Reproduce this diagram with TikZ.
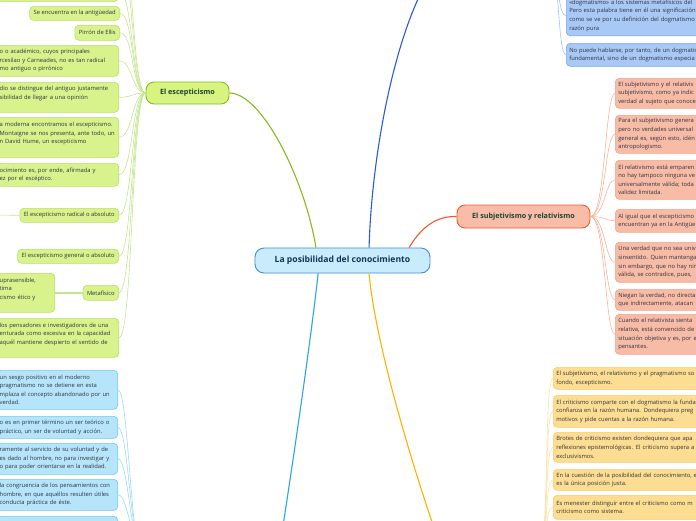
\documentclass[tikz,border=0pt]{standalone}
\usepackage{fontspec}
\setmainfont{Open Sans}
\usetikzlibrary{positioning}

\definecolor{leaftext}{HTML}{2E3440}
\definecolor{topictext}{HTML}{1B4332}
\definecolor{centretext}{HTML}{15315C}
\definecolor{centrefill}{HTML}{C9ECFC}
\definecolor{centreline}{HTML}{3F8FD2}
\definecolor{escfill}{HTML}{D6F47F}
\definecolor{escline}{HTML}{86BD1C}
\definecolor{gfill}{HTML}{D8F28C}
\definecolor{gline}{HTML}{B8E06A}
\definecolor{gconncol}{HTML}{C6E592}
\definecolor{subjfill}{HTML}{F9BCA8}
\definecolor{subjline}{HTML}{F05A28}
\definecolor{pfill}{HTML}{F8BBA6}
\definecolor{pline}{HTML}{F6A488}
\definecolor{pconncol}{HTML}{F8B49C}
\definecolor{tfill}{HTML}{A8C8F6}
\definecolor{tline}{HTML}{7AA6EC}
\definecolor{tconncol}{HTML}{A5C2F0}
\definecolor{tmaincol}{HTML}{2A5BD7}
\definecolor{yfill}{HTML}{FCDD91}
\definecolor{yline}{HTML}{F8CB6A}
\definecolor{yconncol}{HTML}{FBE3A6}
\definecolor{ymaincol}{HTML}{FFB300}
\definecolor{bfill}{HTML}{B5E4FB}
\definecolor{bline}{HTML}{72C9F2}
\definecolor{bconncol}{HTML}{9ED8F5}
\definecolor{bmaincol}{HTML}{2BA3E6}

\newcommand{\leaffont}{\fontsize{5.8}{8.6}\selectfont\hyphenpenalty=10000\exhyphenpenalty=10000}
\newcommand{\topicfont}{\fontsize{7.2}{9}\selectfont\bfseries}

\begin{document}
\begin{tikzpicture}[x=1pt, y=-1pt,
		leaf/.style={rectangle, rounded corners=4pt, line width=0.6pt, inner xsep=3pt, inner ysep=3pt, align=left, font=\leaffont, text=leaftext},
		gleaf/.style={leaf, fill=gfill, draw=gline},
		pleaf/.style={leaf, fill=pfill, draw=pline},
		tleaf/.style={leaf, fill=tfill, draw=tline},
		yleaf/.style={leaf, fill=yfill, draw=yline},
		bleaf/.style={leaf, fill=bfill, draw=bline},
		topic/.style={rectangle, rounded corners=8pt, line width=0.9pt, font=\topicfont, text=topictext, inner sep=0pt},
		gconn/.style={draw=gconncol, line width=0.6pt},
		pconn/.style={draw=pconncol, line width=0.6pt},
		tconn/.style={draw=tconncol, line width=0.6pt},
		yconn/.style={draw=yconncol, line width=0.6pt},
		bconn/.style={draw=bconncol, line width=0.6pt}]
		
		\useasboundingbox (0,0) rectangle (696,520);
		\clip (0,0) rectangle (696,520);
		
		% Nodo central y temas
		\node[topic, rounded corners=9pt, fill=centrefill, draw=centreline, text=centretext, font=\fontsize{8.6}{10}\selectfont\bfseries, minimum width=175pt, minimum height=25pt] (posib) at (342.5,260.5) {La posibilidad del conocimiento};
		\node[topic, fill=escfill, draw=escline, minimum width=83pt, minimum height=22pt] (esc) at (187.5,93) {El escepticismo};
		\node[topic, fill=subjfill, draw=subjline, minimum width=133pt, minimum height=23pt] (subj) at (523.5,216.5) {El subjetivismo y relativismo};
		
		% Temas fuera del cuadro
		\coordinate (dogm) at (425,-15);
		\coordinate (dogmr) at (552,-20);
		\coordinate (crit) at (440,545);
		\coordinate (critl) at (540,545);
		\coordinate (prag) at (280,545);
		\coordinate (pragl) at (140,545);
		
		% Hojas: el escepticismo
		\node[gleaf, anchor=north east, text width=116pt, minimum height=21pt] (g0) at (119,-20) {};
		\node[gleaf, anchor=north east, inner xsep=4pt, minimum height=14pt] (g1) at (120,6) {Se encuentra en la antigüedad};
		\node[gleaf, anchor=north east, inner xsep=4pt, minimum height=15pt] (g2) at (120,25) {Pirrón de Ellis};
		\node[gleaf, anchor=north east, text width=116pt, minimum height=31pt] (g3) at (119,45) {o o académico, cuyos principales\\rcesilao y Carneades, no es tan radical\\mo antiguo o pirrónico};
		\node[gleaf, anchor=north east, text width=116pt, minimum height=30pt] (g4) at (119,82) {dio se distingue del antiguo justamente\\sibilidad de llegar a una opinión\\\mbox{}};
		\node[gleaf, anchor=north east, text width=116pt, minimum height=40pt] (g5) at (119,117) {a moderna encontramos el escepticismo.\\Montaigne se nos presenta, ante todo, un\\n David Hume, un escepticismo\\\mbox{}};
		\node[gleaf, anchor=north east, text width=116pt, minimum height=23pt] (g6) at (119,163) {ocimiento es, por ende, afirmada y\\ez por el escéptico.};
		\node[gleaf, anchor=north east, inner xsep=4pt, minimum height=14pt] (g7) at (119,208) {El escepticismo radical o absoluto};
		\node[gleaf, anchor=north east, inner xsep=4pt, minimum height=14pt] (g8) at (119,249) {El escepticismo general o absoluto};
		\node[gleaf, anchor=north east, inner xsep=4pt, minimum height=15pt] (g9) at (119,285) {Metafísico};
		\node[gleaf, anchor=north east, text width=52pt, minimum height=39pt] (g9a) at (55,273) {uprasensible,\\tima\\cismo ético y\\\mbox{}};
		\node[gleaf, anchor=north east, text width=116pt, minimum height=39pt] (g10) at (119,318) {los pensadores e investigadores de una\\enturada como excesiva en la capacidad\\aquél mantiene despierto el sentido de\\\mbox{}};
		\coordinate (gx1) at (119,-45);
		\coordinate (gx2) at (119,-75);
		\coordinate (g7l) at (-10,215);
		
		% Hojas: subjetivismo y relativismo
		\node[pleaf, anchor=north west, text width=130pt, minimum height=30pt] (p1) at (615,78) {El subjetivismo y el relativis\\subjetivismo, como ya indic\\verdad al sujeto que conoce};
		\node[pleaf, anchor=north west, text width=130pt, minimum height=38pt] (p2) at (615,115) {Para el subjetivismo genera\\pero no verdades universal\\general es, según esto, idén\\antropologismo.};
		\node[pleaf, anchor=north west, text width=130pt, minimum height=39pt] (p3) at (615,160) {El relativismo está emparen\\no hay tampoco ninguna ve\\universalmente válida; toda\\validez limitada.};
		\node[pleaf, anchor=north west, text width=130pt, minimum height=23pt] (p4) at (615,209) {Al igual que el escepticismo\\encuentran ya en la Antigüe};
		\node[pleaf, anchor=north west, text width=130pt, minimum height=40pt] (p5) at (615,242) {Una verdad que no sea univ\\sinsentido. Quien mantenga\\sin embargo, que no hay nin\\válida, se contradice, pues,};
		\node[pleaf, anchor=north west, text width=130pt, minimum height=21pt] (p6) at (615,289) {Niegan la verdad, no directa\\que indirectamente, atacan};
		\node[pleaf, anchor=north west, text width=130pt, minimum height=40pt] (p7) at (615,314) {Cuando el relativista sienta\\relativa, está convencido de\\situación objetiva y es, por e\\pensantes.};
		
		% Hojas: dogmatismo (arriba)
		\node[tleaf, anchor=south west, text width=150pt, minimum height=40pt] (t1) at (566,36) {«dogmatismo» a los sistemas metafísicos del\\Pero esta palabra tiene en él una significación\\como se ve por su definición del dogmatismo\\razón pura};
		\node[tleaf, anchor=north west, text width=150pt, minimum height=23pt] (t2) at (566,43) {No puede hablarse, por tanto, de un dogmatis\\fundamental, sino de un dogmatismo especia};
		
		% Hojas: criticismo (abajo)
		\node[yleaf, anchor=north west, text width=170pt, minimum height=22pt] (y1) at (553,367) {El subjetivismo, el relativismo y el pragmatismo so\\fondo, escepticismo.};
		\node[yleaf, anchor=north west, text width=170pt, minimum height=32pt] (y2) at (553,395) {El criticismo comparte con el dogmatismo la funda\\confianza en la razón humana. Dondequiera preg\\motivos y pide cuentas a la razón humana.};
		\node[yleaf, anchor=north west, text width=170pt, minimum height=30pt] (y3) at (553,432) {Brotes de criticismo existen dondequiera que apa\\reflexiones epistemológicas. El criticismo supera a\\exclusivismos.};
		\node[yleaf, anchor=north west, text width=170pt, minimum height=21pt] (y4) at (553,469) {En la cuestión de la posibilidad del conocimiento, e\\es la única posición justa.};
		\node[yleaf, anchor=north west, text width=170pt, minimum height=24pt] (y5) at (553,495) {Es menester distinguir entre el criticismo como m\\criticismo como sistema.};
		
		% Hojas: pragmatismo (abajo izquierda)
		\node[bleaf, anchor=north east, text width=115pt, minimum height=39pt] (b1) at (118,370) {un sesgo positivo en el moderno\\pragmatismo no se detiene en esta\\mplaza el concepto abandonado por un\\verdad.};
		\node[bleaf, anchor=north east, text width=115pt, minimum height=22pt] (b2) at (118,416) {o es en primer término un ser teórico o\\práctico, un ser de voluntad y acción.};
		\node[bleaf, anchor=north east, text width=115pt, minimum height=31pt] (b3) at (118,443) {ramente al servicio de su voluntad y de\\es dado al hombre, no para investigar y\\o para poder orientarse en la realidad.};
		\node[bleaf, anchor=north east, text width=115pt, minimum height=31pt] (b4) at (118,479) {la congruencia de los pensamientos con\\hombre, en que aquéllos resulten útiles\\conducta práctica de éste.};
		\node[bleaf, anchor=north east, text width=115pt, minimum height=30pt] (b5) at (118,516) {};
		
		% Ramas principales
		\draw[escline, line width=1.1pt] (posib.154) .. controls (305,180) and (262,93) .. (esc.east);
		\draw[tmaincol, line width=1.1pt] (posib.26) .. controls (372,150) and (395,40) .. (dogm);
		\draw[subjline, line width=1.1pt] (posib.11) .. controls (422,226) and (437,216) .. (subj.west);
		\draw[ymaincol, line width=1.1pt] (posib.-26) .. controls (375,340) and (410,460) .. (crit);
		\draw[bmaincol, line width=1.1pt] (posib.208) .. controls (312,330) and (295,450) .. (prag);
		
		% Ramas secundarias
		\foreach \g in {g0,g1,g2,g3,g4,g5,g6,g7,g8,g9,g10,gx1,gx2}
			\draw[gconn] (esc.west) .. controls +(-14,0) and +(14,0) .. (\g.east);
		\draw[gconncol, line width=2pt] (g9a.east) -- (g9.west);
		\draw[gconn] (g7.west) -- (g7l);
		\foreach \p in {p1,p2,p3,p4,p5,p6,p7}
			\draw[pconn] (subj.east) .. controls +(15,0) and +(-10,0) .. (\p.west);
		\foreach \t in {t1,t2}
			\draw[tconn] (dogmr) .. controls +(8,0) and +(-8,0) .. (\t.west);
		\foreach \y in {y1,y2,y3,y4,y5}
			\draw[yconn] (critl) .. controls +(9,0) and +(-9,0) .. (\y.west);
		\foreach \b in {b1,b2,b3,b4,b5}
			\draw[bconn] (pragl) .. controls +(-9,0) and +(10,0) .. (\b.east);
	\end{tikzpicture}
\end{document}
